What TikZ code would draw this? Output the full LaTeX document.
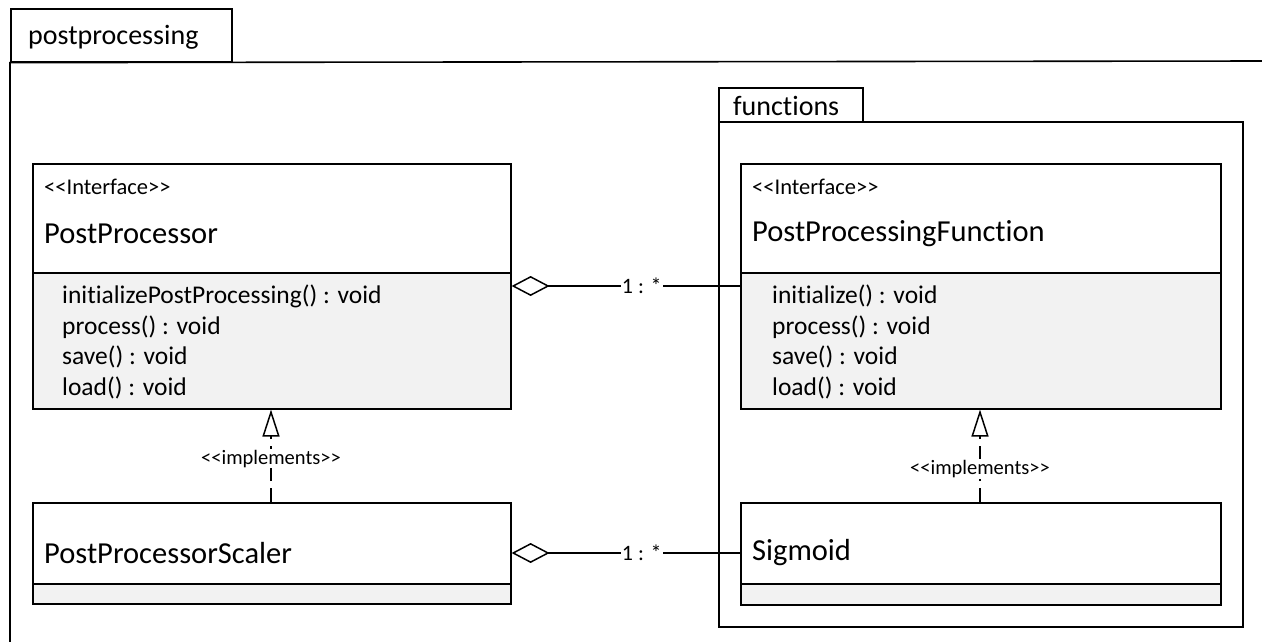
\documentclass[tikz,border=0pt]{standalone}
\usepackage{fontspec}
\setmainfont{Carlito}[Ligatures={TeXOff,CommonOff}]
\usetikzlibrary{arrows.meta}
\definecolor{compgray}{HTML}{F2F2F2}
\tikzset{
  frame/.style={draw=black, line width=1.6pt},
  cls/.style={draw=black, line width=1.6pt, fill=white, inner sep=0pt, anchor=north west},
  comp/.style={draw=black, line width=1.6pt, fill=compgray, inner sep=0pt, anchor=north west},
  txt/.style={anchor=west, inner sep=0pt},
  stereo/.style={txt, font=\fontsize{22.5}{25}\selectfont},
  cname/.style={txt, font=\fontsize{30.5}{34}\selectfont},
  meth/.style={txt, font=\fontsize{25.5}{28}\selectfont},
  pkg/.style={txt, font=\fontsize{28}{31}\selectfont},
  agg/.style={line width=1.5pt, {Diamond[open,length=38pt,width=20pt,line width=1.5pt]}-},
  impl/.style={line width=1.5pt, dash pattern=on 14pt off 7pt, -{Triangle[open,length=27pt,width=17pt,line width=1.5pt]}},
  mult/.style={fill=white, inner sep=1pt, font=\fontsize{22}{24}\selectfont},
  implab/.style={fill=white, inner sep=1pt, font=\fontsize{20.5}{23}\selectfont}
}
\begin{document}
\begin{tikzpicture}[x=1pt,y=-1pt]
\useasboundingbox (0,0) rectangle (1262,642);
\clip (0,0) rectangle (1262,642);
\fill[white] (0,0) rectangle (1262,642);
% outer package
\node[cls, minimum width=221pt, minimum height=53pt] (ptab) at (10,8) {};
\node[pkg] (plab) at (28,37) {postprocessing};
\draw[frame] (1270,61) -- (ptab.south west) -- (10,650);
% functions package
\node[cls, minimum width=144pt, minimum height=34pt] (ftab) at (718,87) {};
\node[pkg] (flab) at (733,106) {functions};
\node[cls, minimum width=524pt, minimum height=505pt] (fbody) at (718,121) {};
% PostProcessor
\node[cls, minimum width=478pt, minimum height=109pt] (ppT) at (32,163) {};
\node[comp, minimum width=478pt, minimum height=136pt] (ppM) at (32,272) {};
\node[stereo] (ppS) at (44,187) {<<Interface>>};
\node[cname] (ppN) at (44,234) {PostProcessor};
\node[meth] (ppm1) at (62,296) {initializePostProcessing() : void};
\node[meth] (ppm2) at (62,327) {process() : void};
\node[meth] (ppm3) at (62,357) {save() : void};
\node[meth] (ppm4) at (62,388) {load() : void};
% PostProcessingFunction
\node[cls, minimum width=480pt, minimum height=109pt] (pfT) at (740,163) {};
\node[comp, minimum width=480pt, minimum height=136pt] (pfM) at (740,272) {};
\node[stereo] (pfS) at (752,187) {<<Interface>>};
\node[cname] (pfN) at (752,234) {PostProcessingFunction};
\node[meth] (pfm1) at (772,296) {initialize() : void};
\node[meth] (pfm2) at (772,327) {process() : void};
\node[meth] (pfm3) at (772,357) {save() : void};
\node[meth] (pfm4) at (772,388) {load() : void};
% PostProcessorScaler
\node[cls, minimum width=478pt, minimum height=81pt] (psT) at (32,502) {};
\node[comp, minimum width=478pt, minimum height=20pt] (psM) at (32,583) {};
\node[cname] (psN) at (44,553) {PostProcessorScaler};
% Sigmoid
\node[cls, minimum width=480pt, minimum height=81pt] (sgT) at (740,502) {};
\node[comp, minimum width=480pt, minimum height=21pt] (sgM) at (740,583) {};
\node[cname] (sgN) at (752,553) {Sigmoid};
% aggregations
\draw[agg] ([yshift=-14pt]ppM.north east) -- node[mult, pos=0.57] {1 : *} ([yshift=-14pt]pfM.north west);
\draw[agg] ([yshift=-51pt]psT.north east) -- node[mult, pos=0.57] {1 : *} ([yshift=-51pt]sgT.north west);
% realizations
\draw[impl] ([xshift=239pt]psT.north west) -- node[implab, pos=0.47] {<<implements>>} ([xshift=239pt]ppM.south west);
\draw[impl] ([xshift=240pt]sgT.north west) -- node[implab, pos=0.36] {<<implements>>} ([xshift=240pt]pfM.south west);
\end{tikzpicture}
\end{document}
